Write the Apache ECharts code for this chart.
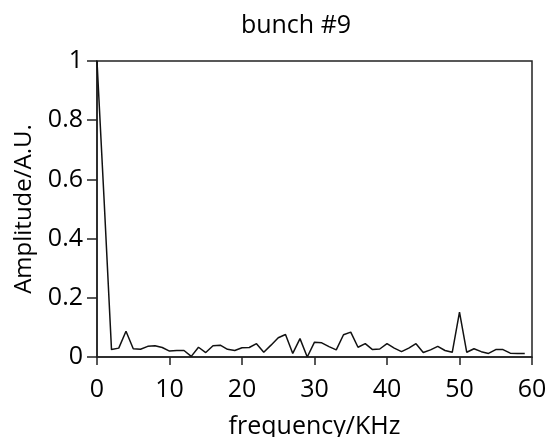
<!DOCTYPE html>
<html>
<head>
<meta charset="utf-8">
<script src="https://cdn.jsdelivr.net/npm/echarts@6/dist/echarts.min.js"></script>
<style>
html,body{margin:0;padding:0;background:#fff;}
#chart{width:547px;height:437px;}
</style>
</head>
<body>
<div id="chart"></div>
<script>
var titleText = 'bunch #9';
var xName = 'frequency/KHz';
var yName = 'Amplitude/A.U.';
var frequency = [0,1,2,3,4,5,6,7,8,9,10,11,12,13,14,15,16,17,18,19,20,21,22,23,24,25,26,27,28,29,30,31,32,33,34,35,36,37,38,39,40,41,42,43,44,45,46,47,48,49,50,51,52,53,54,55,56,57,58,59];
var amplitude = [1.0,0.52,0.025,0.03,0.087,0.028,0.026,0.036,0.038,0.032,0.02,0.022,0.022,0.002,0.033,0.015,0.038,0.04,0.026,0.022,0.031,0.032,0.045,0.016,0.04,0.065,0.076,0.012,0.062,0.0,0.05,0.048,0.035,0.024,0.075,0.084,0.033,0.045,0.025,0.027,0.045,0.03,0.018,0.03,0.045,0.015,0.024,0.036,0.022,0.016,0.152,0.016,0.028,0.018,0.012,0.025,0.025,0.013,0.012,0.012];

var data = frequency.map(function(f, i){ return [f, amplitude[i]]; });
var font = 'Open Sans';
var chart = echarts.init(document.getElementById('chart'), null, {renderer:'canvas'});
chart.setOption({
  animation: false,
  backgroundColor: '#fff',
  title: {
    text: titleText, left: 291, top: 8, textAlign: 'center',
    textStyle: {fontFamily: font, fontSize: 25, fontWeight: 'normal', color: '#000'}
  },
  grid: {left: 97, right: 15, top: 61, bottom: 80, containLabel: false, outerBoundsMode: 'none', show: true, borderColor: '#222', borderWidth: 1.5, backgroundColor: 'transparent'},
  xAxis: {
    type: 'value', min: 0, max: 60, interval: 10,
    name: xName, nameLocation: 'middle', nameGap: 57,
    nameTextStyle: {fontFamily: font, fontSize: 25, color: '#000'},
    axisLine: {show: true, onZero: false, lineStyle: {color: '#222', width: 1.5}},
    axisTick: {show: true, inside: false, length: 8, lineStyle: {color: '#222', width: 1.5}},
    axisLabel: {fontFamily: font, fontSize: 25, color: '#000', margin: 20},
    splitLine: {show: false}
  },
  yAxis: {
    type: 'value', min: 0, max: 1, interval: 0.2,
    name: yName, nameLocation: 'middle', nameGap: 61, nameRotate: 90,
    nameTextStyle: {fontFamily: font, fontSize: 24, color: '#000'},
    axisLine: {show: true, lineStyle: {color: '#222', width: 1.5}},
    axisTick: {show: true, inside: false, length: 10, lineStyle: {color: '#222', width: 1.5}},
    axisLabel: {fontFamily: font, fontSize: 25, color: '#000', margin: 14},
    splitLine: {show: false}
  },
  series: [{
    type: 'line', data: data, showSymbol: false, symbol: 'none',
    lineStyle: {color: '#111', width: 1.5}
  }]
});
</script>
</body>
</html>
